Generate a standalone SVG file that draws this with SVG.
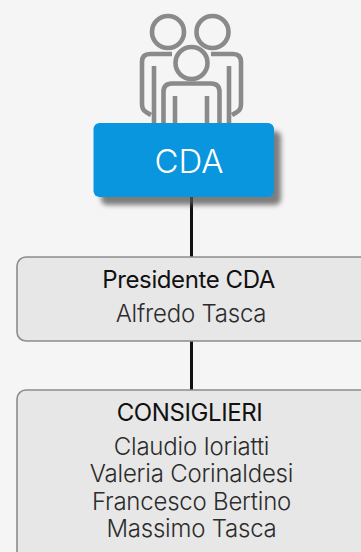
<svg xmlns="http://www.w3.org/2000/svg" width="361" height="552" viewBox="0 0 361 552">
<style>
.ic{fill:none;stroke:#8a8a8a;stroke-width:4.600}
.box{fill:#e7e7e7;stroke:#8c8c8c;stroke-width:1.6}
.t{font-family:"Inter","Liberation Sans",sans-serif;font-size:24px;text-anchor:middle;letter-spacing:-.4px}
.h{fill:#111}.n{fill:#2c2c2c;font-weight:300;letter-spacing:-.22px}
.c{stroke:#111;stroke-width:3;fill:none}
</style>
<defs><filter id="sh" x="-20%" y="-30%" width="140%" height="160%"><feGaussianBlur stdDeviation="2.5"/></filter></defs>
<rect width="361" height="552" fill="#f5f5f5"/>
<g id="connectors">
<path class="c" d="M191.500 197V257"/>
<path class="c" d="M191.500 341V390"/>
</g>
<g id="icon">
<circle class="ic" cx="168" cy="32" r="16"/>
<circle class="ic" cx="212.500" cy="32" r="16"/>
<circle class="ic" cx="191.500" cy="63" r="16"/>
<path class="ic" d="M172 54H150Q142 54 142 62V104Q142 110 146 112L151 115"/>
<path class="ic" d="M211 54H233Q241 54 241 62V104Q241 110 237 112L232 115"/>
<path class="ic" d="M154 66V125M229 66V125M175 96V125M207 96V125"/>
<path class="ic" d="M163.500 125V92Q163.500 83.500 172 83.500H211Q219.500 83.500 219.500 92V125"/>
</g>
<g id="cda">
<rect x="101" y="131" width="180" height="74" rx="6" fill="#555" opacity=".75" filter="url(#sh)"/>
<rect x="93.500" y="123" width="180.500" height="74" rx="6" fill="#0a95df"/>
<text x="189" y="173" font-family="Inter,Liberation Sans,sans-serif" font-weight="300" font-size="33" fill="#fff" text-anchor="middle">CDA</text>
</g>
<g id="presidente">
<rect class="box" x="17" y="257" width="360" height="84" rx="9"/>
<text class="t h" x="188.700" y="288">Presidente CDA</text>
<text class="t n" x="191" y="322">Alfredo Tasca</text>
</g>
<g id="consiglieri">
<rect class="box" x="17" y="390" width="360" height="180" rx="9"/>
<text class="t h" x="189.500" y="421">CONSIGLIERI</text>
<text class="t n" x="191.500" y="455">Claudio Ioriatti</text>
<text class="t n" x="191.500" y="482">Valeria Corinaldesi</text>
<text class="t n" x="191.500" y="510">Francesco Bertino</text>
<text class="t n" x="191.500" y="537">Massimo Tasca</text>
</g>
</svg>
